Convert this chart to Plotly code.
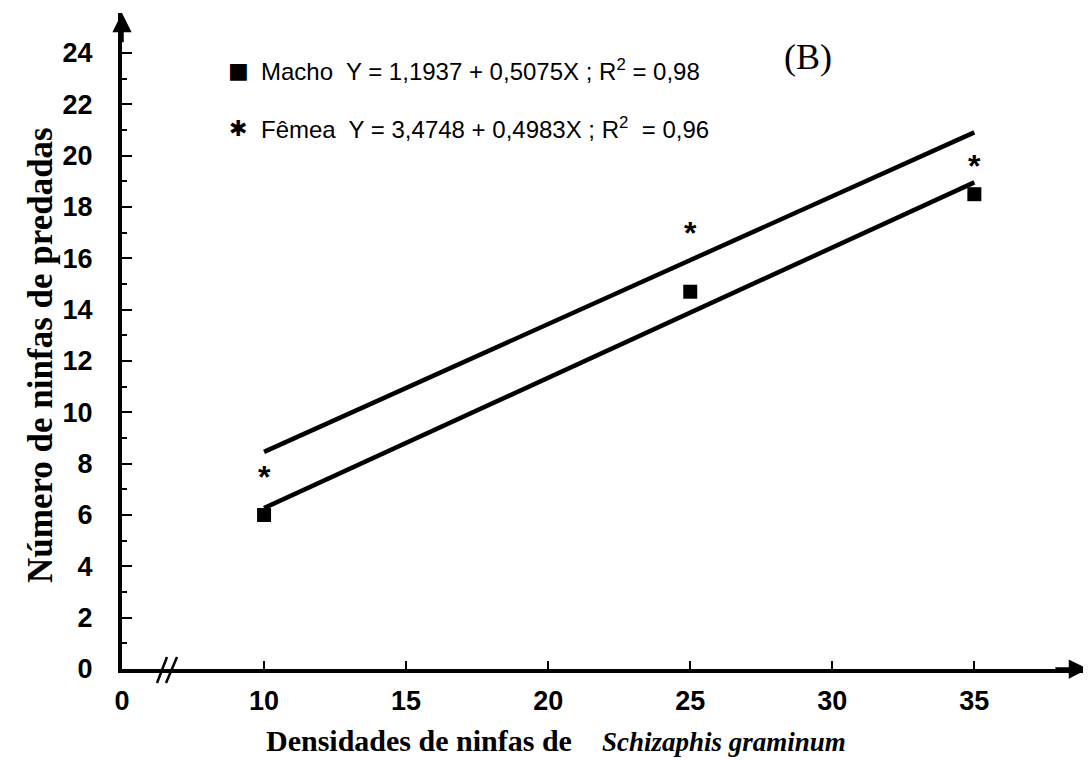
import plotly.graph_objects as go

# ---- data ----
densidades = [10, 25, 35]
macho = [6.0, 14.7, 18.5]
femea = [7.8, 17.3, 19.9]
fit_x = [10, 35]
macho_fit = [6.27, 18.96]
femea_fit = [8.46, 20.91]
x_tickvals = [5, 10, 15, 20, 25, 30, 35]
x_ticktext = ["0", "10", "15", "20", "25", "30", "35"]
y_tickvals = [0, 2, 4, 6, 8, 10, 12, 14, 16, 18, 20, 22, 24]
y_ticktext = ["0", "2", "4", "6", "8", "10", "12", "14", "16", "18", "20", "22", "24"]
legend_macho = "Macho  Y = 1,1937 + 0,5075X ; R<sup>2</sup> = 0,98"
legend_femea = "Fêmea  Y = 3,4748 + 0,4983X ; R<sup>2</sup>  = 0,96"

ARIAL = "Liberation Sans, Arial, sans-serif"
TIMES = "Liberation Serif, Times New Roman, serif"

XR = [5, 39]
YR = [0, 25.56]

# page has an 8px body margin; compensate so plot area lands at the reference pixels
OFF = 8
W, H = 1091 - OFF, 761 - OFF
ML, MR, MT, MB = 122 - OFF, 3, 13 - OFF, 92

fig = go.Figure()
fig.add_trace(go.Scatter(x=fit_x, y=femea_fit, mode="lines",
                         line=dict(color="black", width=4.5), showlegend=False))
fig.add_trace(go.Scatter(x=fit_x, y=macho_fit, mode="lines",
                         line=dict(color="black", width=4.5), showlegend=False))
fig.add_trace(go.Scatter(x=densidades, y=macho, mode="markers",
                         marker=dict(symbol="square", size=14, color="black"),
                         showlegend=False, cliponaxis=False))

tickfont = dict(family=ARIAL, size=27, color="black", weight=900)

fig.update_xaxes(range=XR, showgrid=False, zeroline=False, showline=True,
                 linecolor="black", linewidth=3.5,
                 tickmode="array", tickvals=x_tickvals, ticktext=x_ticktext,
                 ticks="inside", ticklen=8, tickwidth=1.5, tickcolor="black",
                 tickfont=tickfont, ticklabelstandoff=5)
fig.update_yaxes(range=YR, showgrid=False, zeroline=False, showline=True,
                 linecolor="black", linewidth=4,
                 tickmode="array", tickvals=y_tickvals, ticktext=y_ticktext,
                 ticks="inside", ticklen=10, tickwidth=1.5,
                 tickcolor="black", tickfont=tickfont, ticklabelstandoff=20,
                 minor=dict(tick0=0, dtick=1, ticks="inside", ticklen=5, tickwidth=1.5,
                            tickcolor="black"))

def px(x):
    return (x - 122) / (1088 - 122)

def py(y):
    return (669 - y) / (669 - 13)

annotations = [
    # axis arrowheads
    dict(x=XR[0], y=YR[1], ax=XR[0], ay=YR[1] - 1.2, xref="x", yref="y",
         axref="x", ayref="y", text="", showarrow=True, arrowhead=2,
         arrowsize=1.1, arrowwidth=3.5, arrowcolor="black"),
    dict(x=XR[1], y=0, ax=XR[1] - 1.2, ay=0, xref="x", yref="y",
         axref="x", ayref="y", text="", showarrow=True, arrowhead=2,
         arrowsize=1.1, arrowwidth=3.5, arrowcolor="black"),
    # legend
    dict(x=px(238), y=py(70), xref="paper", yref="paper", text="■", showarrow=False,
         xanchor="center", yanchor="middle",
         font=dict(family="DejaVu Sans", size=22, color="black")),
    dict(x=px(259), y=py(70), xref="paper", yref="paper", xanchor="left", yanchor="middle",
         text=legend_macho, showarrow=False,
         font=dict(family=ARIAL, size=24, color="black")),
    dict(x=px(238), y=py(128), xref="paper", yref="paper", text="✱", showarrow=False,
         xanchor="center", yanchor="middle",
         font=dict(family="DejaVu Sans", size=22, color="black")),
    dict(x=px(259), y=py(128), xref="paper", yref="paper", xanchor="left", yanchor="middle",
         text=legend_femea, showarrow=False,
         font=dict(family=ARIAL, size=24, color="black")),
    # panel label
    dict(x=px(808), y=py(57), xref="paper", yref="paper", text="(B)", showarrow=False,
         xanchor="center", yanchor="middle",
         font=dict(family=TIMES, size=36, color="black")),
    # axis titles
    dict(x=px(40), y=py(355), xref="paper", yref="paper", textangle=-90,
         xanchor="center", yanchor="middle",
         text="<b>Número de ninfas de predadas</b>", showarrow=False,
         font=dict(family=TIMES, size=35, color="black")),
    dict(x=px(556), y=py(740), xref="paper", yref="paper",
         xanchor="center", yanchor="middle",
         text=("<b>Densidades de ninfas de</b>\u00a0\u00a0\u00a0\u00a0"
               "<span style='font-size:27px'><b><i>Schizaphis graminum</i></b></span>"),
         showarrow=False, font=dict(family=TIMES, size=30, color="black")),
]

# female observations drawn as asterisks at data coordinates
for xv, yv in zip(densidades, femea):
    annotations.append(dict(x=xv, y=yv, xref="x", yref="y", text="<b>*</b>", showarrow=False,
                            xanchor="center", yanchor="middle", yshift=-8,
                            font=dict(family=ARIAL, size=32, color="black")))

shapes = [
    dict(type="line", xref="paper", yref="paper", x0=px(157), y0=py(683),
         x1=px(167), y1=py(657), line=dict(color="black", width=2.5)),
    dict(type="line", xref="paper", yref="paper", x0=px(166), y0=py(683),
         x1=px(177), y1=py(657), line=dict(color="black", width=2.5)),
]

fig.update_layout(width=W, height=H, margin=dict(l=ML, r=MR, t=MT, b=MB),
                  plot_bgcolor="white", paper_bgcolor="white",
                  annotations=annotations, shapes=shapes, showlegend=False)

fig.write_html("out.html")
